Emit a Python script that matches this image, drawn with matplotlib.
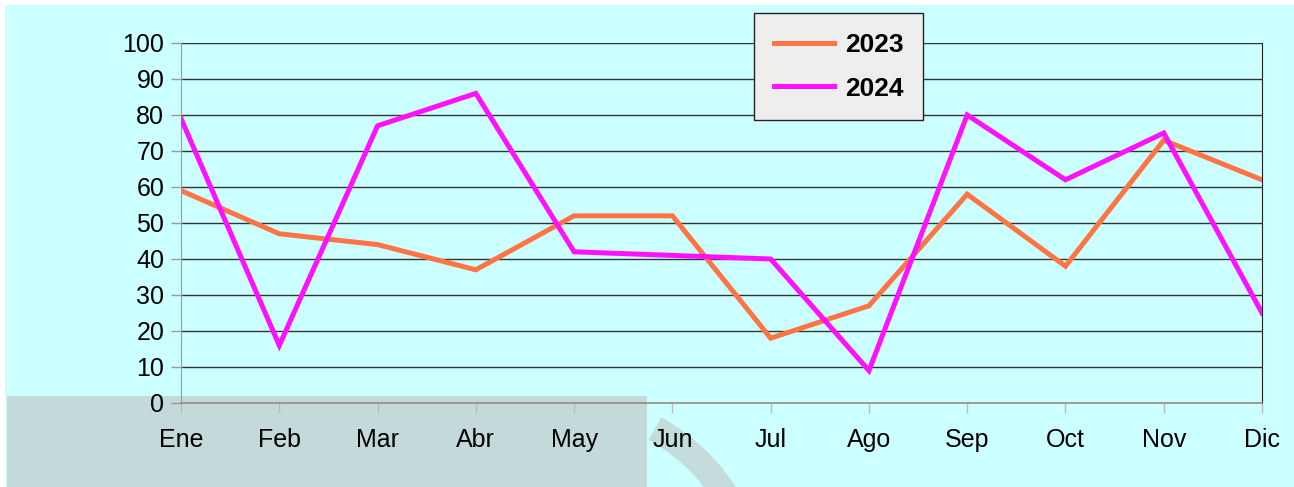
import matplotlib
matplotlib.use("Agg")
import matplotlib.pyplot as plt
from matplotlib.patches import Rectangle, Wedge
from matplotlib.transforms import IdentityTransform

months = ["Ene", "Feb", "Mar", "Abr", "May", "Jun", "Jul", "Ago", "Sep", "Oct", "Nov", "Dic"]
s2023 = [59, 47, 44, 37, 52, 52, 18, 27, 58, 38, 73, 62]
s2024 = [79, 16, 77, 86, 42, 41, 40, 9, 80, 62, 75, 25]
yticks = list(range(0, 101, 10))

plt.rcParams['font.family'] = ['Liberation Sans', 'DejaVu Sans']

W, H = 1294, 487
fig = plt.figure(figsize=(W / 100, H / 100), dpi=100)
fig.patch.set_facecolor('white')

# background panels
fig.add_artist(Rectangle((5 / W, 0), 1 - 5 / W, 1 - 5 / H, transform=fig.transFigure,
                         facecolor='#ccffff', edgecolor='none', zorder=-10))
fig.add_artist(Rectangle((7 / W, 0), 640 / W, (H - 396) / H, transform=fig.transFigure,
                         facecolor='#c4d9d9', edgecolor='none', zorder=-9))
fig.add_artist(Wedge((560, -113), 209, 30, 61, width=26, transform=IdentityTransform(),
                     facecolor='#c4dcdc', edgecolor='none', zorder=-9))

ax = fig.add_axes([181 / W, (H - 403) / H, (1262 - 181) / W, (403 - 43) / H])
ax.set_facecolor('none')

x = list(range(len(months)))
ax.plot(x, s2023, color='#ff7444', lw=3.6, label='2023', solid_joinstyle='miter', zorder=3)
ax.plot(x, s2024, color='#ff11ff', lw=3.6, label='2024', solid_joinstyle='miter', zorder=4)

ax.set_xlim(0, len(months) - 1)
ax.set_ylim(0, 100)
ax.set_yticks(yticks)
ax.set_xticks(x)
ax.set_xticklabels(months)
for y in yticks[1:]:
    ax.axhline(y, color='#333333', lw=1.0, zorder=1)

ax.tick_params(axis='y', direction='out', length=7, width=1, color='#999999', pad=5, labelsize=18)
ax.tick_params(axis='x', direction='out', length=7, width=1, color='#bbbbbb', pad=11, labelsize=18)
for sp in ['top']:
    ax.spines[sp].set_visible(False)
ax.spines['left'].set_color('#999999')
ax.spines['bottom'].set_color('#998888')
ax.spines['bottom'].set_linewidth(1.2)
ax.spines['right'].set_color('#222222')

leg = ax.legend(loc='upper left', bbox_to_anchor=(754 / W, 1 - 13 / H),
                bbox_transform=fig.transFigure, borderaxespad=0,
                frameon=True, fancybox=False, edgecolor='#222222', facecolor='#eeeeee',
                framealpha=1, prop={'weight': 'bold', 'size': 19},
                handlelength=2.3, handletextpad=0.4, borderpad=0.75, labelspacing=0.75)
leg.get_frame().set_linewidth(1.0)
leg.set_zorder(10)

fig.savefig('out.png', dpi=100)
